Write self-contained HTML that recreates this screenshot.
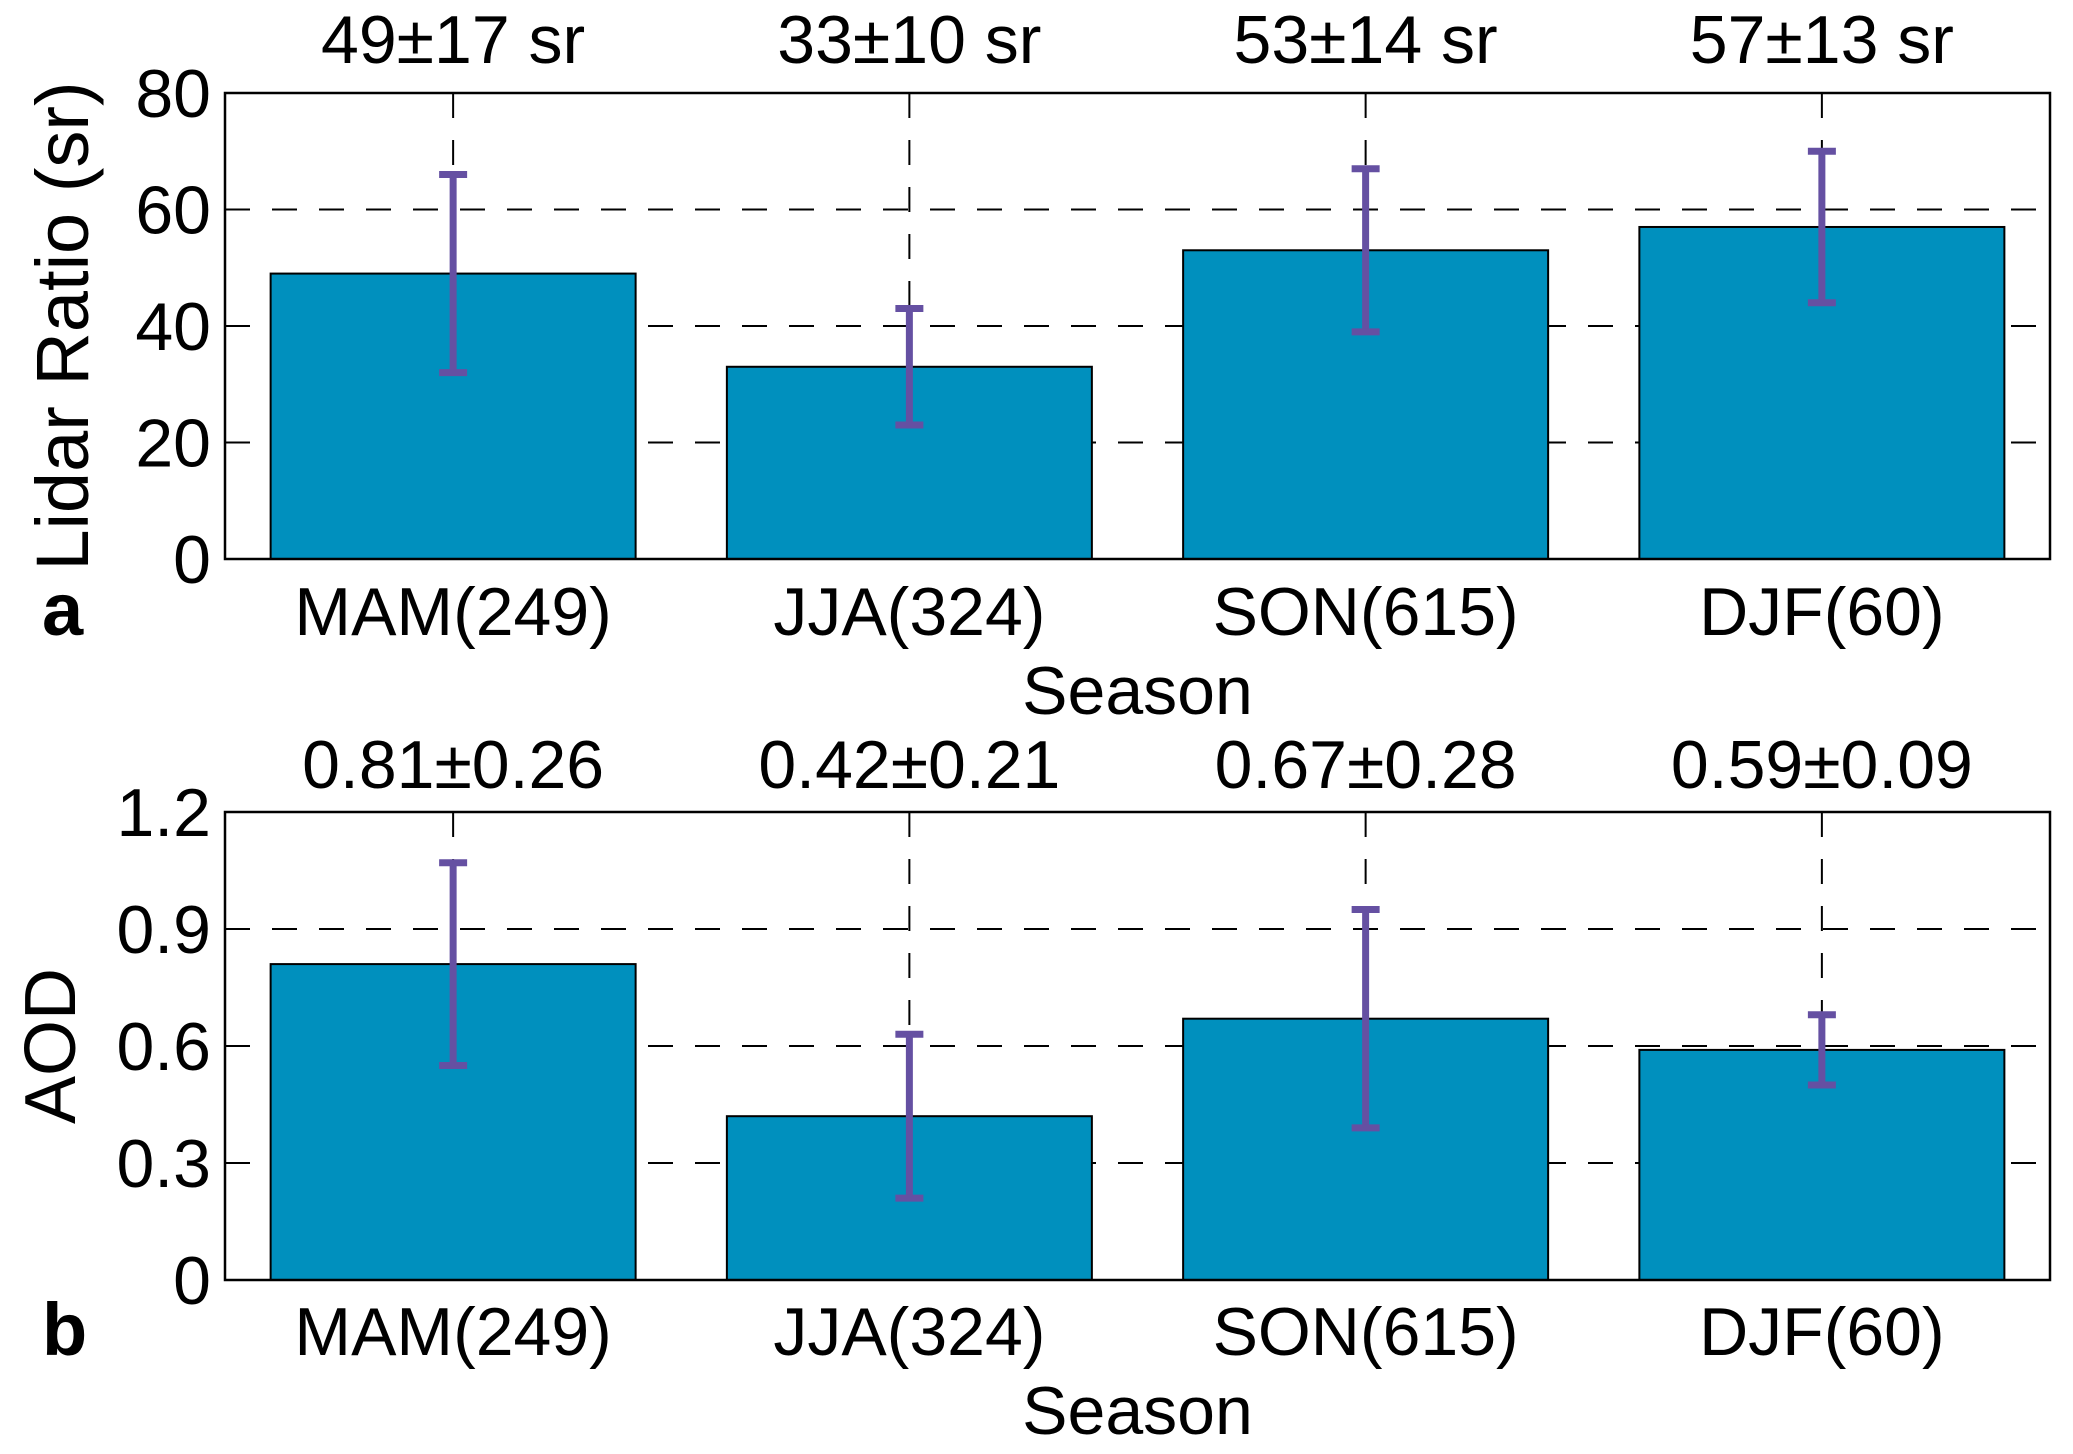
<!DOCTYPE html>
<html><head><meta charset="utf-8"><style>
html,body{margin:0;padding:0;background:#fff;}
svg text{font-family:"Liberation Sans",Arial,sans-serif;fill:#000;}
</style></head><body>
<svg id="chart" width="2073" height="1449" viewBox="0 0 2073 1449" xmlns="http://www.w3.org/2000/svg"></svg>
<script>
const categories = ["MAM(249)","JJA(324)","SON(615)","DJF(60)"];
const lidarValues = [49,33,53,57];
const lidarErrors = [17,10,14,13];
const lidarLabels = ["49±17 sr","33±10 sr","53±14 sr","57±13 sr"];
const lidarTicks = [0,20,40,60,80];
const aodValues = [0.81,0.42,0.67,0.59];
const aodErrors = [0.26,0.21,0.28,0.09];
const aodLabels = ["0.81±0.26","0.42±0.21","0.67±0.28","0.59±0.09"];
const aodTicks = [0,0.3,0.6,0.9,1.2];
const aodTickLabels = ["0","0.3","0.6","0.9","1.2"];

const NS="http://www.w3.org/2000/svg";
const svg=document.getElementById('chart');
function mk(tag,attrs,parent){const e=document.createElementNS(NS,tag);for(const k in attrs)e.setAttribute(k,attrs[k]);(parent||svg).appendChild(e);return e;}

function panel(cfg){
  const L=225,R=2050,T=cfg.top,B=cfg.bottom;
  const x=i=>L+(i+0.5)*(R-L)/categories.length;
  const y=v=>B-(v-cfg.ymin)/(cfg.ymax-cfg.ymin)*(B-T);
  const g=mk('g',{});
  
  
  cfg.ticks.forEach((t,i)=>{
    if(i>0&&i<cfg.ticks.length-1){const l=mk('line',{x1:L,x2:R,y1:y(t),y2:y(t),stroke:'#000','stroke-width':2,'stroke-dasharray':'25,22'},g);
      }
    const tx=mk('text',{x:L-14,y:y(t)+24,'font-size':68,'text-anchor':'end'},g);
    tx.textContent=cfg.tickLabels[i];
    
  });
  categories.forEach((c,i)=>{
    const l=mk('line',{x1:x(i),x2:x(i),y1:T,y2:B,stroke:'#000','stroke-width':2,'stroke-dasharray':'25,22'},g);
    
  });
  const bw=0.8*(R-L)/categories.length;
  cfg.values.forEach((v,i)=>{
    const r=mk('rect',{x:x(i)-bw/2,y:y(v),width:bw,height:y(cfg.ymin)-y(v),fill:'#0090be',stroke:'#000','stroke-width':2},g);
    
    
    const hi=y(v+cfg.errors[i]),lo=y(v-cfg.errors[i]);
    const eg=mk('g',{stroke:'#6550a2','stroke-width':7},g);
    
    mk('line',{x1:x(i),x2:x(i),y1:hi,y2:lo},eg);
    mk('line',{x1:x(i)-14,x2:x(i)+14,y1:hi,y2:hi},eg);
    mk('line',{x1:x(i)-14,x2:x(i)+14,y1:lo,y2:lo},eg);
    const a=mk('text',{x:x(i),y:cfg.annoY,'font-size':68,'text-anchor':'middle'},g);
    a.textContent=cfg.labels[i];
    
    const cl=mk('text',{x:x(i),y:cfg.catY,'font-size':68,'text-anchor':'middle'},g);
    cl.textContent=categories[i];
    
  });
  const f=mk('rect',{x:L,y:T,width:R-L,height:B-T,fill:'none',stroke:'#000','stroke-width':2.5},g);
  
  const xt=mk('text',{x:(L+R)/2,y:cfg.seasonY,'font-size':68,'text-anchor':'middle'},g);
  xt.textContent='Season';
  
  const yt=mk('text',{x:0,y:0,'font-size':cfg.ylabSize,'text-anchor':'middle',transform:`translate(${cfg.ylabX},${(T+B)/2}) rotate(-90)`},g);
  yt.textContent=cfg.ylabel;
  
  const pl=mk('text',{x:42,y:cfg.catY,'font-size':74,'font-weight':'bold'},g);
  pl.textContent=cfg.panelLabel;
  
}
panel({name:'lidar-ratio-panel',top:93,bottom:559,ymin:0,ymax:80,ticks:lidarTicks,tickLabels:lidarTicks.map(String),
  values:lidarValues,errors:lidarErrors,labels:lidarLabels,annoY:63,catY:635,seasonY:714,ylabel:'Lidar Ratio (sr)',ylabX:88,ylabSize:74,panelLabel:'a'});
panel({name:'aod-panel',top:812,bottom:1280,ymin:0,ymax:1.2,ticks:aodTicks,tickLabels:aodTickLabels,
  values:aodValues,errors:aodErrors,labels:aodLabels,annoY:788,catY:1355,seasonY:1434,ylabel:'AOD',ylabX:75,ylabSize:72,panelLabel:'b'});
</script>
</body></html>
